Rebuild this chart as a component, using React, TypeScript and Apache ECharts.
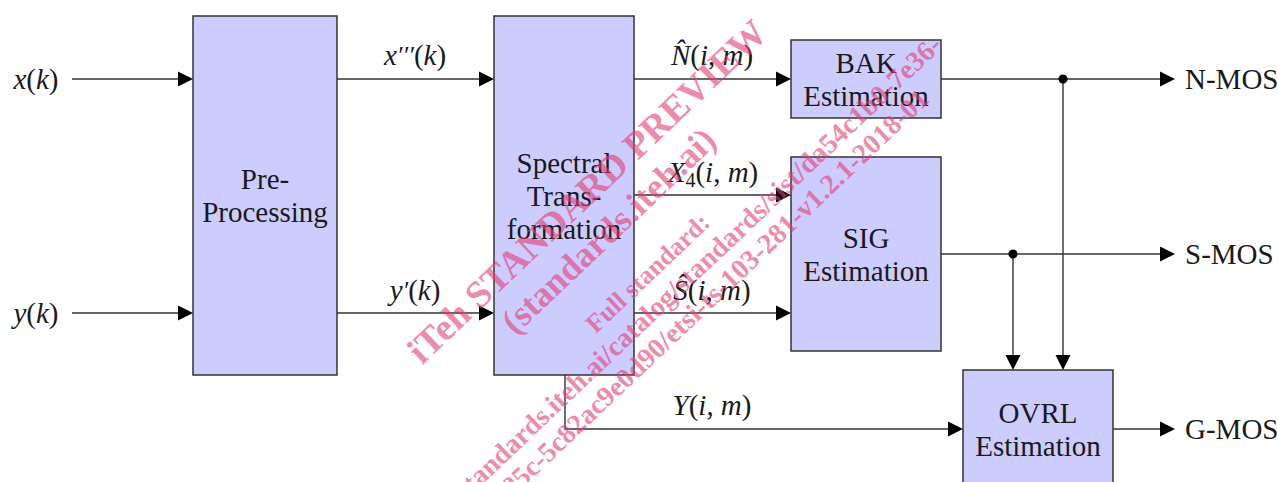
import React, { useEffect, useRef } from "react";
import * as echarts from "echarts";

const W = 1278;
const H = 482;

// Blocks of the diagram: text lines and corners [x0, y0, x1, y1] in diagram units
const blockLabels: string[][] = [
  ["Pre-", "Processing"],
  ["Spectral", "Trans-", "formation"],
  ["BAK", "Estimation"],
  ["SIG", "Estimation"],
  ["OVRL", "Estimation"],
];
const blockCorners: number[][] = [
  [193, 16, 337, 375],
  [494, 16, 634, 375],
  [791, 40, 941, 118],
  [791, 157, 941, 351],
  [963, 370, 1113, 488],
];

// Signal paths (last point carries the arrow head)
const signalPaths: number[][][] = [
  [[72, 79], [193, 79]],
  [[72, 313], [193, 313]],
  [[337, 79], [494, 79]],
  [[337, 313], [494, 313]],
  [[634, 79], [791, 79]],
  [[634, 195], [791, 195]],
  [[634, 313], [791, 313]],
  [[565, 375], [565, 429], [963, 429]],
  [[941, 79], [1175, 79]],
  [[941, 254], [1175, 254]],
  [[1113, 429], [1175, 429]],
  [[1063, 79], [1063, 370]],
  [[1013, 254], [1013, 370]],
];

// Branch points
const junctions: number[][] = [
  [1063, 79],
  [1013, 254],
];

// Signal names (rich text) and where they sit
const signalNames: string[] = [
  "{i|x}{n|(}{i|k}{n|)}",
  "{i|y}{n|(}{i|k}{n|)}",
  "{i|x}{p|\u2032\u2032\u2032}{n|(}{i|k}{n|)}",
  "{i|y}{p|\u2032}{n|(}{i|k}{n|)}",
  "{i|N\u0302}{n|(}{i|i}{n|, }{i|m}{n|)}",
  "{i|X}{s|4}{n|(}{i|i}{n|, }{i|m}{n|)}",
  "{i|S\u0302}{n|(}{i|i}{n|, }{i|m}{n|)}",
  "{i|Y}{n|(}{i|i}{n|, }{i|m}{n|)}",
];
const signalNameAt: number[][] = [
  [36, 79],
  [36, 313],
  [415, 55],
  [415, 290],
  [712, 55],
  [713, 172],
  [712, 290],
  [712, 405],
];

// Output names
const outputNames: string[] = ["N-MOS", "S-MOS", "G-MOS"];
const outputNameAt: number[][] = [
  [1185, 79],
  [1185, 254],
  [1185, 429],
];

// Watermark
const watermarkTexts: string[] = [
  "iTeh STANDARD PREVIEW",
  "(standards.iteh.ai)",
  "Full standard:",
  "https://standards.iteh.ai/catalog/standards/sist/da54c1b0-7e36-",
  "485c-5c82ac9e0d90/etsi-ts-103-281-v1.2.1-2018-01",
];
const watermarkAt: number[][] = [
  [413, 356],
  [507, 327],
  [590, 328],
  [937, 40],
  [924, 94],
];
const watermarkSize: number[] = [38, 36, 26, 28, 28];
const watermarkAlign: string[] = ["left", "left", "left", "right", "right"];

const FAMILY = "Liberation Serif";
const FAMILY_A = "Times New Roman";
const FAMILY_B = "serif";
const FS = 29;
const INK = "#1a1a1a";
const LINE = "#333333";

function baseOption() {
  return {
    animation: false,
    grid: { left: 0, right: 0, top: 0, bottom: 0 },
    xAxis: { type: "value", min: 0, max: W, show: false },
    yAxis: { type: "value", min: 0, max: H, inverse: true, show: false },
    series: [
      {
        type: "custom",
        clip: false,
        z: 2,
        data: blockCorners.map((c) => [c[0], c[1]]),
        renderItem: (params: any, api: any) => {
          const c = blockCorners[params.dataIndex];
          const p0 = api.coord([c[0], c[1]]);
          const p1 = api.coord([c[2], c[3]]);
          return {
            type: "rect",
            shape: { x: p0[0], y: p0[1], width: p1[0] - p0[0], height: p1[1] - p0[1] },
            style: { fill: "#ccccff", stroke: LINE, lineWidth: 1.5 },
          };
        },
      },
      {
        type: "custom",
        clip: false,
        z: 3,
        data: signalPaths.map((p) => [p[0][0], p[0][1]]),
        renderItem: (params: any, api: any) => {
          const pts = signalPaths[params.dataIndex].map((p) => api.coord(p));
          const n = pts.length;
          const [tx, ty] = pts[n - 1];
          const [px, py] = pts[n - 2];
          const len = Math.hypot(tx - px, ty - py);
          const ux = (tx - px) / len;
          const uy = (ty - py) / len;
          const L = 15;
          const Hw = 7.5;
          const bx = tx - ux * L;
          const by = ty - uy * L;
          const linePts = pts.slice(0, n - 1).concat([[bx + ux * 2, by + uy * 2]]);
          return {
            type: "group",
            children: [
              {
                type: "polyline",
                shape: { points: linePts },
                style: { stroke: LINE, lineWidth: 1.4, fill: "none" },
              },
              {
                type: "polygon",
                shape: {
                  points: [
                    [tx, ty],
                    [bx - uy * Hw, by + ux * Hw],
                    [bx + uy * Hw, by - ux * Hw],
                  ],
                },
                style: { fill: "#000000", stroke: "none" },
              },
            ],
          };
        },
      },
      {
        type: "custom",
        clip: false,
        z: 4,
        data: junctions.map((j) => [j[0], j[1]]),
        renderItem: (params: any, api: any) => {
          const p = api.coord(junctions[params.dataIndex]);
          return {
            type: "circle",
            shape: { cx: p[0], cy: p[1], r: 4.5 },
            style: { fill: "#000000" },
          };
        },
      },
    ],
  };
}

function richFor(fam: string) {
  return {
    i: { fontFamily: fam, fontSize: FS, fontStyle: "italic", fill: INK, lineHeight: 36 },
    n: { fontFamily: fam, fontSize: FS, fill: INK, lineHeight: 36 },
    p: { fontFamily: fam, fontSize: 26, fontStyle: "italic", fill: INK, lineHeight: 36 },
    s: { fontFamily: fam, fontSize: 20, fill: INK, lineHeight: 20, verticalAlign: "bottom" },
  };
}

function textElements(chart: any) {
  const toPx = (p: number[]) => chart.convertToPixel({ gridIndex: 0 }, p) as number[];
  const ang = (43.5 * Math.PI) / 180;
  const els: any[] = [];
  blockCorners.forEach((c, k) => {
    const p = toPx([(c[0] + c[2]) / 2, (c[1] + c[3]) / 2]);
    els.push({
      type: "text",
      x: p[0],
      y: p[1],
      z: 50,
      style: {
        text: blockLabels[k].join("\n"),
        fontSize: FS,
        lineHeight: 33,
        fill: INK,
        align: "center",
        verticalAlign: "middle",
        fontFamily: FAMILY_A,
        fontWeight: "normal",
      },
    });
  });
  signalNameAt.forEach((a, k) => {
    const p = toPx(a);
    els.push({
      type: "text",
      x: p[0],
      y: p[1],
      z: 50,
      style: {
        text: signalNames[k],
        rich: richFor(FAMILY_B),
        fontSize: FS,
        fill: INK,
        align: "center",
        verticalAlign: "middle",
        fontFamily: FAMILY_B,
      },
    });
  });
  outputNameAt.forEach((a, k) => {
    const p = toPx(a);
    els.push({
      type: "text",
      x: p[0],
      y: p[1],
      z: 50,
      style: {
        text: outputNames[k],
        fontSize: FS,
        fill: INK,
        align: "left",
        verticalAlign: "middle",
        fontFamily: FAMILY,
        fontWeight: "normal",
        fontStyle: "normal",
      },
    });
  });
  watermarkTexts.forEach((t, k) => {
    const p = toPx(watermarkAt[k]);
    els.push({
      type: "text",
      x: p[0],
      y: p[1],
      rotation: ang,
      z: 100,
      style: {
        text: t,
        fontSize: watermarkSize[k],
        fill: "rgba(226, 62, 112, 0.62)",
        align: watermarkAlign[k],
        verticalAlign: "middle",
        fontFamily: FAMILY,
        fontWeight: "bold",
      },
    });
  });
  return els;
}

export default function App() {
  const ref = useRef<HTMLDivElement>(null);
  useEffect(() => {
    document.body.style.margin = "0";
    document.body.style.overflow = "hidden";
    const chart = echarts.init(ref.current as HTMLDivElement, null, { renderer: "svg" });
    chart.setOption(baseOption() as any);
    chart.setOption({ graphic: { elements: textElements(chart) } } as any);
    return () => chart.dispose();
  }, []);
  return <div ref={ref} style={{ width: W, height: H, fontFamily: FAMILY }} />;
}
